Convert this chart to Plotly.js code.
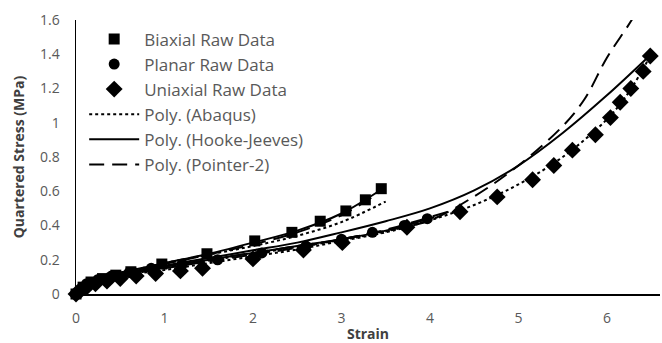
<!DOCTYPE html>
<html><head><meta charset="utf-8">
<script src="https://cdn.plot.ly/plotly-3.0.1.min.js"></script>
<style>html,body{margin:0;padding:0;background:#fff;}#chart{width:662px;height:343px;}</style>
</head><body><div id="chart"></div>
<script>
// Raw data
const biaxialStrain = [0, 0.08, 0.17, 0.3, 0.45, 0.62, 0.97, 1.48, 2.02, 2.44, 2.76, 3.05, 3.27, 3.45];
const biaxialStress = [0, 0.04, 0.07, 0.09, 0.11, 0.13, 0.175, 0.235, 0.31, 0.36, 0.425, 0.485, 0.55, 0.615];
const planarStrain = [0, 0.05, 0.12, 0.25, 0.4, 0.6, 0.85, 1.2, 1.6, 2.1, 2.6, 3.0, 3.35, 3.71, 3.97];
const planarStress = [0, 0.03, 0.06, 0.085, 0.105, 0.125, 0.15, 0.175, 0.2, 0.24, 0.28, 0.32, 0.36, 0.40, 0.44];
const uniaxialStrain = [0, 0.05, 0.12, 0.22, 0.35, 0.5, 0.68, 0.9, 1.18, 1.43, 2.0, 2.57, 3.01, 3.74, 4.34, 4.76, 5.16, 5.40, 5.61, 5.87, 6.04, 6.15, 6.27, 6.41, 6.49];
const uniaxialStress = [0, 0.02, 0.04, 0.06, 0.075, 0.09, 0.105, 0.12, 0.135, 0.15, 0.205, 0.257, 0.30, 0.39, 0.48, 0.567, 0.667, 0.75, 0.84, 0.93, 1.03, 1.12, 1.20, 1.30, 1.39];

// Trendlines
const abqUniX = [0, 0.5, 1, 1.5, 2, 2.5, 3, 3.5, 4, 4.5, 5, 5.5, 6, 6.25, 6.5];
const abqUniY = [0, 0.10, 0.14, 0.18, 0.22, 0.26, 0.31, 0.36, 0.43, 0.52, 0.64, 0.80, 1.02, 1.18, 1.40];
const hjUniX = [0, 0.25, 0.5, 1, 1.5, 2, 2.5, 3, 3.5, 4, 4.5, 5, 5.5, 6, 6.5];
const hjUniY = [0, 0.07, 0.11, 0.165, 0.21, 0.255, 0.30, 0.36, 0.425, 0.50, 0.605, 0.75, 0.94, 1.16, 1.40];
const p2UniX = [0, 0.5, 1, 1.5, 2, 2.5, 3, 3.5, 4, 4.5, 5, 5.5, 5.75, 6, 6.28, 6.5];
const p2UniY = [0, 0.10, 0.15, 0.19, 0.23, 0.27, 0.32, 0.37, 0.43, 0.57, 0.75, 0.98, 1.14, 1.38, 1.60, 1.80];

const abqBiX = [0, 0.1, 0.25, 0.5, 1, 1.5, 2, 2.5, 3, 3.5];
const abqBiY = [0, 0.05, 0.085, 0.12, 0.18, 0.23, 0.28, 0.34, 0.42, 0.54];
const hjBiX = [0, 0.1, 0.25, 0.5, 1, 1.5, 2, 2.5, 3, 3.45];
const hjBiY = [0, 0.05, 0.09, 0.125, 0.18, 0.235, 0.30, 0.37, 0.47, 0.61];
const p2BiX = [0, 0.1, 0.25, 0.5, 1, 1.5, 2, 2.5, 3, 3.45];
const p2BiY = [0, 0.05, 0.09, 0.12, 0.175, 0.23, 0.29, 0.36, 0.46, 0.60];

const abqPlX = [0, 0.1, 0.25, 0.5, 1, 1.5, 2, 2.5, 3, 3.5, 4.0];
const abqPlY = [0, 0.05, 0.08, 0.11, 0.155, 0.195, 0.235, 0.275, 0.315, 0.365, 0.43];
const hjPlX = [0, 0.1, 0.25, 0.5, 1, 1.5, 2, 2.5, 3, 3.5, 4.05];
const hjPlY = [0, 0.05, 0.08, 0.11, 0.16, 0.20, 0.24, 0.28, 0.32, 0.37, 0.45];
const p2PlX = [0, 0.1, 0.25, 0.5, 1, 1.5, 2, 2.5, 3, 3.5, 4.2];
const p2PlY = [0, 0.05, 0.08, 0.11, 0.16, 0.20, 0.24, 0.28, 0.32, 0.375, 0.48];

const xTicks = [0, 1, 2, 3, 4, 5, 6];
const yTicks = [0, 0.2, 0.4, 0.6, 0.8, 1, 1.2, 1.4, 1.6];
const yTickText = ['0', '0.2', '0.4', '0.6', '0.8', '1', '1.2', '1.4', '1.6'];

const traces = [
  {x: biaxialStrain, y: biaxialStress, name: 'Biaxial Raw Data', mode: 'markers', cliponaxis: false,
   marker: {symbol: 'square', size: 11, color: '#000'}},
  {x: planarStrain, y: planarStress, name: 'Planar Raw Data', mode: 'markers', cliponaxis: false,
   marker: {symbol: 'circle', size: 11, color: '#000'}},
  {x: uniaxialStrain, y: uniaxialStress, name: 'Uniaxial Raw Data', mode: 'markers', cliponaxis: false,
   marker: {symbol: 'diamond', size: 13, color: '#000'}},
  {x: abqUniX, y: abqUniY, name: 'Poly. (Abaqus)', mode: 'lines', line: {color: '#000', width: 2, dash: 'dot', shape: 'spline'}},
  {x: hjUniX, y: hjUniY, name: 'Poly. (Hooke-Jeeves)', mode: 'lines', line: {color: '#000', width: 2, shape: 'spline'}},
  {x: p2UniX, y: p2UniY, name: 'Poly. (Pointer-2)', mode: 'lines', line: {color: '#000', width: 2, dash: '15px,8px', shape: 'spline'}},
  {x: abqBiX, y: abqBiY, mode: 'lines', showlegend: false, line: {color: '#000', width: 2, dash: 'dot', shape: 'spline'}},
  {x: hjBiX, y: hjBiY, mode: 'lines', showlegend: false, line: {color: '#000', width: 2, shape: 'spline'}},
  {x: p2BiX, y: p2BiY, mode: 'lines', showlegend: false, line: {color: '#000', width: 2, dash: '15px,8px', shape: 'spline'}},
  {x: abqPlX, y: abqPlY, mode: 'lines', showlegend: false, line: {color: '#000', width: 2, dash: 'dot', shape: 'spline'}},
  {x: hjPlX, y: hjPlY, mode: 'lines', showlegend: false, line: {color: '#000', width: 2, shape: 'spline'}},
  {x: p2PlX, y: p2PlY, mode: 'lines', showlegend: false, line: {color: '#000', width: 2, dash: '15px,8px', shape: 'spline'}}
];

const font = "Open Sans, Liberation Sans, sans-serif";
const layout = {
  width: 662, height: 343,
  margin: {l: 76, r: 2, t: 20, b: 49, pad: 0},
  paper_bgcolor: '#fff', plot_bgcolor: '#fff',
  font: {family: font, size: 14, color: '#595959'},
  showlegend: true,
  legend: {x: 0.014, y: 0.995, xanchor: 'left', yanchor: 'top', bgcolor: 'rgba(0,0,0,0)',
           font: {family: font, size: 17, color: '#595959'}, itemwidth: 50, tracegroupgap: 0},
  xaxis: {range: [0, 6.6], tickvals: xTicks, ticktext: xTicks.map(String), showgrid: false, zeroline: false,
          showline: true, linecolor: '#000', linewidth: 1.5, ticks: '', ticklabelstandoff: 11,
          title: {text: '<b>Strain</b>', font: {size: 14, color: '#404040'}, standoff: 6}},
  yaxis: {range: [0, 1.6], tickvals: yTicks, ticktext: yTickText, showgrid: false, zeroline: false,
          showline: true, linecolor: '#000', linewidth: 1.5, ticks: '', ticklabelstandoff: 12,
          title: {text: '<b>Quartered Stress (MPa)</b>', font: {size: 14, color: '#404040'}, standoff: 12}}
};
Plotly.newPlot('chart', traces, layout, {staticPlot: true, displayModeBar: false});
</script></body></html>
